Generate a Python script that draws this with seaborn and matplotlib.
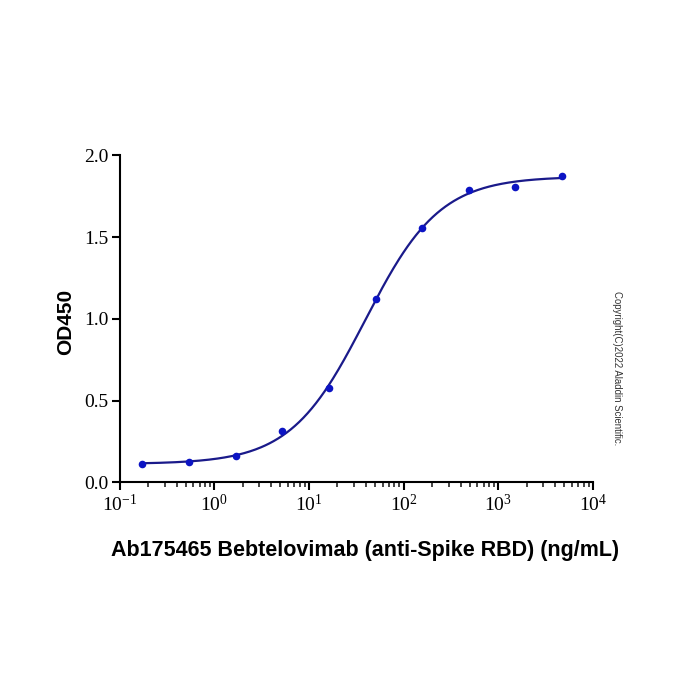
import numpy as np
import pandas as pd
import seaborn as sns
import matplotlib
matplotlib.use("Agg")
import matplotlib.pyplot as plt
from matplotlib import ticker

# data
conc = [0.17, 0.54, 1.7, 5.2, 16.3, 50.8, 158, 490, 1520, 4760]
od450 = [0.109, 0.125, 0.161, 0.315, 0.575, 1.123, 1.554, 1.790, 1.808, 1.875]
yticks = [0.0, 0.5, 1.0, 1.5, 2.0]
xlabel = "Ab175465 Bebtelovimab (anti-Spike RBD) (ng/mL)"
ylabel = "OD450"
copyright_text = "Copyright(C)2022 Aladdin Scientific."

line_color = "#1a1a8a"
dot_color = "#0c14c4"


def fourPL(x, p):
    bottom, top, logc, hill = p
    return bottom + (top - bottom) / (1 + 10 ** (hill * (logc - np.log10(x))))


def fitFourPL(x, y):
    # small Levenberg-Marquardt fit, numpy only
    x = np.asarray(x, float)
    y = np.asarray(y, float)
    p = np.array([y.min(), y.max(), np.log10(30.0), 1.0])
    lam = 1e-3
    for _ in range(200):
        r = y - fourPL(x, p)
        J = np.zeros((len(x), 4))
        for k in range(4):
            dp = np.zeros(4)
            dp[k] = 1e-6
            J[:, k] = (fourPL(x, p + dp) - fourPL(x, p)) / 1e-6
        A = J.T @ J
        step = np.linalg.solve(A + lam * np.diag(np.diag(A)), J.T @ r)
        p_new = p + step
        if np.sum((y - fourPL(x, p_new)) ** 2) < np.sum(r ** 2):
            p = p_new
            lam *= 0.5
        else:
            lam *= 4
    return p


df = pd.DataFrame({"conc": conc, "od": od450})
params = fitFourPL(conc, od450)
xs = np.logspace(np.log10(conc[0]), np.log10(conc[-1]), 300)
curve = pd.DataFrame({"conc": xs, "od": fourPL(xs, params)})

sns.set_style("ticks")
plt.rcParams["font.family"] = ["Liberation Serif", "DejaVu Serif"]
plt.rcParams["mathtext.fontset"] = "custom"
plt.rcParams["mathtext.rm"] = "Liberation Serif"
plt.rcParams["mathtext.it"] = "Liberation Serif:italic"

fig = plt.figure(figsize=(7, 7), dpi=100)
ax = fig.add_axes([0.171, 0.311, 0.676, 0.467])

sns.lineplot(data=curve, x="conc", y="od", color=line_color, lw=1.6, ax=ax)
sns.scatterplot(data=df, x="conc", y="od", color=dot_color, s=30,
                edgecolor=dot_color, linewidth=0, zorder=3, ax=ax)

ax.set_xscale("log")
ax.set_xlim(0.1, 1e4)
ax.set_ylim(0, 2.0)
ax.set_yticks(yticks)
ax.yaxis.set_major_formatter(ticker.FormatStrFormatter("%.1f"))
ax.xaxis.set_major_locator(ticker.LogLocator(base=10, numticks=10))
ax.xaxis.set_minor_locator(ticker.LogLocator(base=10, subs=np.arange(2, 10), numticks=20))
ax.xaxis.set_major_formatter(ticker.LogFormatterSciNotation())

sns.despine(ax=ax)
for spine in ax.spines.values():
    spine.set_linewidth(1.5)
    spine.set_color("black")
ax.tick_params(which="major", direction="out", length=6, width=1.5, labelsize=14,
               colors="black", pad=2)
ax.tick_params(which="minor", direction="out", length=3.5, width=1.2)

ax.set_xlabel("")
ax.set_ylabel("")
fig.text(0.521, 0.214, xlabel, ha="center", va="center", fontsize=15.5,
         fontweight="bold", color="black", family=["Liberation Sans", "DejaVu Sans"])
fig.text(0.094, 0.54, ylabel, ha="center", va="center", rotation=90, fontsize=15,
         fontweight="bold", color="black", family=["Liberation Sans", "DejaVu Sans"])
fig.text(0.881, 0.474, copyright_text, ha="center", va="center", rotation=-90,
         fontsize=6.9, color="#333333", family=["Liberation Sans", "DejaVu Sans"])

fig.savefig("out.png", dpi=100)
